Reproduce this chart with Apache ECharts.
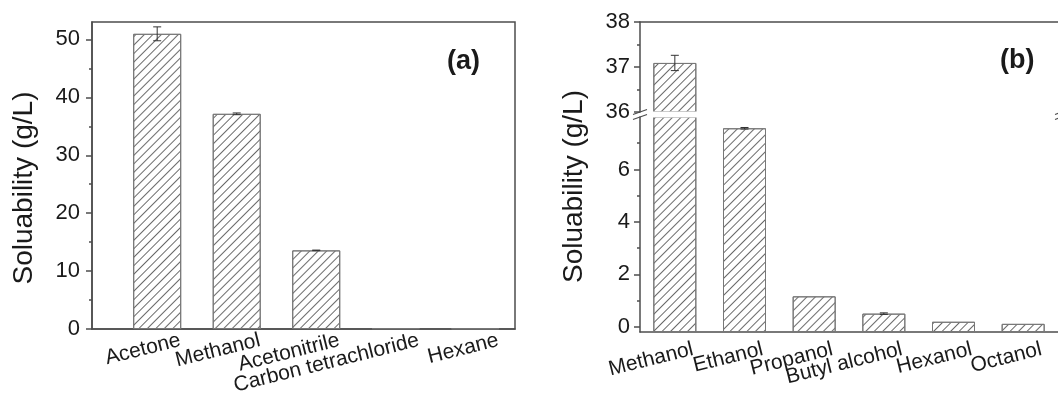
<!DOCTYPE html>
<html>
<head>
<meta charset="utf-8">
<script src="https://cdn.jsdelivr.net/npm/echarts@6/dist/echarts.min.js"></script>
<style>
  html, body { margin: 0; padding: 0; background: #fff; }
  #chart { width: 1058px; height: 397px; }
</style>
</head>
<body>
<div id="chart"></div>
<script>
// panel (a)
const solventsA = ['Acetone', 'Methanol', 'Acetonitrile', 'Carbon tetrachloride', 'Hexane'];
const solubilityA = [50.96, 37.15, 13.58, 0.15, 0.12];
const errorA = [1.2, 0.15, 0.05, 0, 0];
const ticksA = [0, 10, 20, 30, 40, 50];
const minorTicksA = [5, 15, 25, 35, 45];

// panel (b), broken axis
const solventsB = ['Methanol', 'Ethanol', 'Propanol', 'Butyl alcohol', 'Hexanol', 'Octanol'];
const solubilityB = [37.09, 7.57, 1.16, 0.5, 0.19, 0.11];
const errorB = [0.17, 0.03, 0, 0.03, 0, 0];
const ticksBUpper = [36, 37, 38];
const minorTicksBUpper = [36.5, 37.5];
const ticksBLower = [0, 2, 4, 6];
const minorTicksBLower = [1, 3, 5, 7];

const FONT = "'Liberation Sans', Arial, sans-serif";
const INK = '#1a1a1a';
const LINE = '#4d4d4d';
const BREAK_LOW = 8;

const gridA = { left: 92, top: 22, width: 423, height: 310 };
const gridBUp = { left: 640, top: 22, width: 422, height: 90 };
const gridBLow = { left: 640, top: 117, width: 422, height: 215 };

// x anchors of the rotated labels, as a fraction of one bar step
const nudgeA = 0.29;
const nudgeB = 0.26;

const hatch = {
  color: '#fff',
  borderColor: '#777',
  borderWidth: 1,
  decal: {
    symbol: 'rect',
    symbolSize: 1,
    color: '#6a6a6a',
    dashArrayX: [1, 0],
    dashArrayY: [1, 4.8],
    rotation: -Math.PI / 4
  }
};

function errorItem(params, api) {
  const x = api.value(0);
  const lo = api.coord([x, api.value(1)]);
  const hi = api.coord([x, api.value(2)]);
  const cap = 4;
  const style = { stroke: '#333', lineWidth: 1 };
  return {
    type: 'group',
    children: [
      { type: 'line', shape: { x1: hi[0], y1: hi[1], x2: lo[0], y2: lo[1] }, style },
      { type: 'line', shape: { x1: hi[0] - cap, y1: hi[1], x2: hi[0] + cap, y2: hi[1] }, style },
      { type: 'line', shape: { x1: lo[0] - cap, y1: lo[1], x2: lo[0] + cap, y2: lo[1] }, style }
    ]
  };
}

function errorData(values, errors, keep) {
  return values
    .map((v, i) => [i + 1, v - errors[i], v + errors[i]])
    .filter((d, i) => errors[i] > 0 && keep(values[i]));
}

function yMain(gridIndex, min, max, ticks, margin, extra) {
  return Object.assign({
    type: 'value',
    gridIndex,
    position: 'left',
    min,
    max,
    axisLine: { show: true, onZero: false, lineStyle: { color: LINE, width: 1.5 } },
    axisTick: { show: true, inside: false, length: 6, customValues: ticks, lineStyle: { color: LINE, width: 1.5 } },
    axisLabel: {
      customValues: ticks, showMinLabel: true, showMaxLabel: true,
      fontFamily: FONT, fontSize: 22, color: INK, margin
    },
    splitLine: { show: false }
  }, extra || {});
}

function yMinor(gridIndex, min, max, ticks) {
  return {
    type: 'value',
    gridIndex,
    position: 'left',
    min,
    max,
    axisLine: { show: false, onZero: false },
    axisTick: { show: true, inside: false, length: 3, customValues: ticks, lineStyle: { color: LINE, width: 1.5 } },
    axisLabel: { show: false },
    splitLine: { show: false }
  };
}

// the category names are split over two stacked axes (even / odd) so that
// ECharts does not drop neighbouring rotated labels that touch each other
function xCats(gridIndex, names, min, max, nudge, margin, parity) {
  const picked = names.map((n, i) => i).filter((i) => i % 2 === parity);
  return {
    type: 'value',
    gridIndex,
    position: 'bottom',
    min,
    max,
    axisLine: { show: parity === 0, onZero: false, lineStyle: { color: LINE, width: 1.5 } },
    axisTick: { show: false },
    splitLine: { show: false },
    axisLabel: {
      customValues: picked.map((i) => i + 1 + nudge),
      formatter: (v) => names[Math.round(v - nudge) - 1],
      showMinLabel: true,
      showMaxLabel: true,
      rotate: 14,
      margin,
      fontFamily: FONT,
      fontSize: 21,
      color: INK
    }
  };
}

const titleStyle = { fontFamily: FONT, fontSize: 28, color: INK };

function breakMarks(x, y1, y2) {
  return [y1, y2].map((y) => ({
    type: 'line',
    shape: { x1: x - 7, y1: y + 2.5, x2: x + 7, y2: y - 2.5 },
    style: { stroke: LINE, lineWidth: 1.3 },
    z: 100
  }));
}

// white band hiding the clipped bar edges at the axis break
const gapY = gridBUp.top + gridBUp.height - 0.5;
const gapBand = {
  type: 'rect',
  shape: { x: gridBUp.left + 1, y: gapY, width: gridBUp.width, height: gridBLow.top - gapY + 0.5 },
  style: { fill: '#fff' },
  z: 90
};

const chart = echarts.init(document.getElementById('chart'), null, { renderer: 'canvas' });

chart.setOption({
  animation: false,
  backgroundColor: '#fff',
  grid: [
    Object.assign({ show: true, borderColor: LINE, borderWidth: 1.5, backgroundColor: 'transparent' }, gridA),
    Object.assign({ show: false }, gridBUp),
    Object.assign({ show: false }, gridBLow)
  ],
  xAxis: [
    xCats(0, solventsA, 0.18, 5.5, nudgeA, 11, 0),
    xCats(0, solventsA, 0.18, 5.5, nudgeA, 11, 1),
    {
      type: 'value', gridIndex: 1, position: 'top', min: 0.5, max: 6.5,
      axisLine: { show: true, onZero: false, lineStyle: { color: LINE, width: 1.5 } },
      axisTick: { show: false }, axisLabel: { show: false }, splitLine: { show: false }
    },
    xCats(2, solventsB, 0.5, 6.5, nudgeB, 17, 0),
    xCats(2, solventsB, 0.5, 6.5, nudgeB, 17, 1)
  ],
  yAxis: [
    yMain(0, 0, 53, ticksA, 12, {
      name: 'Soluability (g/L)',
      nameLocation: 'middle',
      nameGap: 54,
      nameTextStyle: Object.assign({ padding: [0, 25, 0, 0] }, titleStyle)
    }),
    yMinor(0, 0, 53, minorTicksA),
    yMain(1, 36, 38, ticksBUpper, 10),
    yMinor(1, 36, 38, minorTicksBUpper),
    yMain(2, -0.2, BREAK_LOW, ticksBLower, 10, {
      startValue: -0.2,
      name: 'Soluability (g/L)',
      nameLocation: 'middle',
      nameGap: 52,
      nameTextStyle: Object.assign({ padding: [0, 0, 0, 76] }, titleStyle)
    }),
    yMinor(2, -0.2, BREAK_LOW, minorTicksBLower)
  ],
  graphic: [
    { type: 'text', left: 447, top: 48, style: { text: '(a)', font: 'bold 27px ' + FONT, fill: INK } },
    { type: 'text', left: 1000, top: 47, style: { text: '(b)', font: 'bold 27px ' + FONT, fill: INK } },
    gapBand,
    ...breakMarks(gridBUp.left, gridBUp.top + gridBUp.height, gridBLow.top),
    ...breakMarks(gridBUp.left + gridBUp.width, gridBUp.top + gridBUp.height, gridBLow.top)
  ],
  series: [
    {
      type: 'bar', xAxisIndex: 0, yAxisIndex: 0, barWidth: 48,
      data: solubilityA.map((v, i) => [i + 1, v]),
      itemStyle: hatch
    },
    {
      type: 'custom', xAxisIndex: 0, yAxisIndex: 0, renderItem: errorItem, z: 5,
      encode: { x: 0, y: [1, 2] },
      data: errorData(solubilityA, errorA, () => true)
    },
    {
      type: 'bar', xAxisIndex: 2, yAxisIndex: 2, barWidth: 43, clip: true,
      data: solubilityB.map((v, i) => [i + 1, v]),
      itemStyle: hatch
    },
    {
      type: 'bar', xAxisIndex: 3, yAxisIndex: 4, barWidth: 43, clip: true,
      data: solubilityB.map((v, i) => [i + 1, v]),
      itemStyle: hatch
    },
    {
      type: 'custom', xAxisIndex: 2, yAxisIndex: 2, renderItem: errorItem, z: 5,
      encode: { x: 0, y: [1, 2] },
      data: errorData(solubilityB, errorB, (v) => v > BREAK_LOW)
    },
    {
      type: 'custom', xAxisIndex: 3, yAxisIndex: 4, renderItem: errorItem, z: 5,
      encode: { x: 0, y: [1, 2] },
      data: errorData(solubilityB, errorB, (v) => v <= BREAK_LOW)
    }
  ]
});
</script>
</body>
</html>
